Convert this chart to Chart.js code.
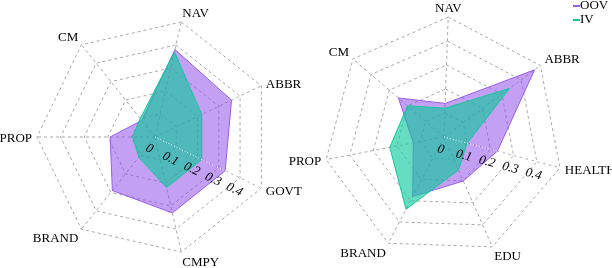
<!DOCTYPE html>
<html>
<head>
<meta charset="utf-8">
<script src="https://cdn.jsdelivr.net/npm/chart.js@4/dist/chart.umd.min.js"></script>
<style>
  html, body { margin: 0; padding: 0; background: #fff; }
  .wrap { position: relative; width: 612px; height: 268px; overflow: hidden; }
  #leftBox { position: absolute; left: 0; top: 0; width: 306px; height: 268px; }
  #rightBox { position: absolute; left: 280px; top: 0; width: 332px; height: 268px; }
</style>
</head>
<body>
<div class="wrap">
  <div id="leftBox"><canvas id="leftChart"></canvas></div>
  <div id="rightBox"><canvas id="rightChart"></canvas></div>
</div>
<script>
// Axis categories for each radar
const leftLabels = ['NAV', 'ABBR', 'GOVT', 'CMPY', 'BRAND', 'PROP', 'CM'];
const rightLabels = ['NAV', 'ABBR', 'HEALTH', 'EDU', 'BRAND', 'PROP', 'CM'];

// Series values
const leftOOV = [0.38, 0.36, 0.33, 0.33, 0.29, 0.19, 0.09];
const leftIV = [0.37, 0.22, 0.22, 0.22, 0.11, 0.095, 0.10];
const rightOOV = [0.14, 0.47, 0.23, 0.20, 0.28, 0.13, 0.25];
const rightIV = [0.12, 0.34, 0.10, 0.15, 0.34, 0.23, 0.20];

// Tick labels drawn along one spoke
const tickValues = [0, 0.1, 0.2, 0.3, 0.4];
const tickLabels = ['0', '0.1', '0.2', '0.3', '0.4'];

const seriesNames = ['OOV', 'IV'];
const serif = "'Liberation Serif', 'DejaVu Serif', serif";

const oovFill = 'rgba(137, 65, 233, 0.5)';
const oovLine = '#9b5cf0';
const ivFill = 'rgba(13, 200, 155, 0.63)';
const ivLine = '#14c89a';

// Spoke labels, aligned like the original (side labels centred vertically)
const spokeLabelPlugin = {
    id: 'spokeLabels',
    afterDraw(chart) {
        const scale = chart.scales.r;
        const ctx = chart.ctx;
        ctx.save();
        ctx.font = '13px ' + serif;
        ctx.fillStyle = '#000';
        ctx.textBaseline = 'alphabetic';
        chart.data.labels.forEach((label, i) => {
            const p = scale.getPointPosition(i, scale.drawingArea + 5);
            const ang = scale.getIndexAngle(i);
            const s = Math.sin(ang);
            const c = Math.cos(ang);
            ctx.textAlign = Math.abs(s) < 0.1 ? 'center' : (s > 0 ? 'left' : 'right');
            let y = p.y + 4.5;          // middle
            if (c > 0.5) y = p.y;       // label above the spoke end
            if (c < -0.5) y = p.y + 9;  // label below the spoke end
            ctx.fillText(label, p.x, y);
        });
        ctx.restore();
    }
};

// Draws the rotated tick labels and the white dotted spoke
const tickLabelPlugin = {
    id: 'tickLabels',
    afterDatasetsDraw(chart, args, opts) {
        const scale = chart.scales.r;
        const ctx = chart.ctx;
        const idx = opts.axisIndex;
        const a = scale.getIndexAngle(idx) - Math.PI / 2;
        const start = scale.getPointPositionForValue(idx, 0);
        const end = scale.getPointPositionForValue(idx, 0.5);

        ctx.save();
        ctx.strokeStyle = '#ffffff';
        ctx.lineWidth = 1;
        ctx.setLineDash([1, 2]);
        ctx.beginPath();
        ctx.moveTo(start.x, start.y);
        ctx.lineTo(end.x, end.y);
        ctx.stroke();
        ctx.restore();

        ctx.save();
        ctx.font = 'italic 13px ' + serif;
        ctx.fillStyle = '#000';
        ctx.textAlign = 'center';
        ctx.textBaseline = 'middle';
        tickValues.forEach((v, i) => {
            const p = scale.getPointPositionForValue(idx, v);
            const x = p.x - Math.sin(a) * opts.offset;
            const y = p.y + Math.cos(a) * opts.offset;
            ctx.save();
            ctx.translate(x, y);
            ctx.rotate(a);
            ctx.fillText(tickLabels[i], 0, 0);
            ctx.restore();
        });
        ctx.restore();
    }
};

// Small legend in the top right corner
const cornerLegendPlugin = {
    id: 'cornerLegend',
    afterDraw(chart, args, opts) {
        if (!opts.show) return;
        const ctx = chart.ctx;
        const items = chart.data.datasets.slice().reverse();
        ctx.save();
        ctx.font = '13px ' + serif;
        ctx.textBaseline = 'middle';
        ctx.textAlign = 'left';
        items.forEach((ds, i) => {
            const y = opts.y + i * opts.gap;
            ctx.strokeStyle = ds.borderColor;
            ctx.lineWidth = 2;
            ctx.beginPath();
            ctx.moveTo(opts.x, y);
            ctx.lineTo(opts.x + 7, y);
            ctx.stroke();
            ctx.fillStyle = '#000';
            ctx.fillText(ds.label, opts.x + 7, y);
        });
        ctx.restore();
    }
};

function makeRadar(id, labels, oov, iv, startAngle, tickAxis, padding, legend) {
    const ctx = document.getElementById(id).getContext('2d');
    return new Chart(ctx, {
        type: 'radar',
        data: {
            labels: labels,
            datasets: [{
                label: seriesNames[1],
                data: iv,
                backgroundColor: ivFill,
                borderColor: ivLine,
                borderWidth: 1,
                pointRadius: 0
            }, {
                label: seriesNames[0],
                data: oov,
                backgroundColor: oovFill,
                borderColor: oovLine,
                borderWidth: 1,
                pointRadius: 0
            }]
        },
        options: {
            responsive: true,
            maintainAspectRatio: false,
            animation: false,
            // padding leaves a square plot area, the spoke labels sit outside it
            layout: { padding: padding },
            elements: { line: { tension: 0 } },
            scales: {
                r: {
                    min: 0,
                    max: 0.5,
                    startAngle: startAngle,
                    ticks: { stepSize: 0.1, display: false },
                    grid: { color: '#a8a8a8', lineWidth: 1 },
                    border: { dash: [3, 3] },
                    angleLines: { color: '#a8a8a8', lineWidth: 1, borderDash: [3, 3] },
                    pointLabels: { display: false }
                }
            },
            plugins: {
                legend: { display: false },
                tooltip: { enabled: false },
                tickLabels: { axisIndex: tickAxis, offset: 13 },
                cornerLegend: legend
            }
        },
        plugins: [tickLabelPlugin, spokeLabelPlugin, cornerLegendPlugin]
    });
}

makeRadar('leftChart', leftLabels, leftOOV, leftIV, 270 - 5 * 360 / 7, 2,
    { left: 37, right: 33, top: 19, bottom: 13 }, { show: false });
makeRadar('rightChart', rightLabels, rightOOV, rightIV, 2, 2,
    { left: 44, right: 48, top: 17, bottom: 11 }, { show: true, x: 293, y: 6, gap: 14 });
</script>
</body>
</html>
